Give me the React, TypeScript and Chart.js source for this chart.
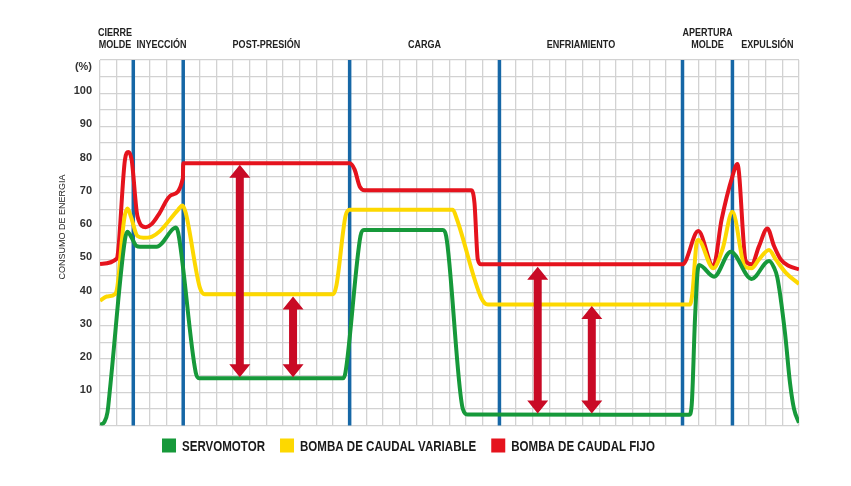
import React, { useEffect, useRef } from 'react';
import { Chart, registerables } from 'chart.js';

Chart.register(...registerables);

// ---- data (x in grid units 0..42, y in %) ----
const servoX = [0, 0.25, 0.45, 0.6, 1.5, 1.65, 1.85, 2.2, 2.4, 3.4, 4.4, 4.55, 4.7, 5.75, 5.95, 14.6, 14.75, 15.65, 15.85, 20.6, 20.8, 21.8, 22.1, 35.4, 35.55, 35.75, 35.9, 36.0, 36.9, 37.9, 39.15, 40.2, 40.5, 40.7, 41.16, 41.46, 41.7, 42];
const servoY = [0.2, 1, 4, 11, 56, 58.3, 57, 54, 53.8, 53.8, 59.2, 59.6, 58, 16, 14.2, 14.2, 16, 57, 58.8, 58.8, 57, 5, 3.3, 3.2, 6, 32, 46, 48.3, 44.8, 52.3, 44.1, 49.5, 47.5, 44.5, 27.8, 12.8, 5, 0.8];

const variableX = [0, 0.4, 0.9, 1.05, 1.45, 1.65, 1.85, 2.25, 2.6, 3.1, 3.6, 4.7, 4.95, 5.15, 6.0, 6.3, 14.0, 14.2, 14.75, 15.0, 21.2, 21.45, 22.9, 23.3, 35.45, 35.6, 35.85, 35.95, 36.85, 37.4, 38.0, 38.75, 39.15, 39.6, 40.2, 40.6, 41.2, 42];
const variableY = [37.6, 38.8, 39.5, 42, 62, 65.3, 63, 57, 56.5, 56.8, 58.5, 65, 66.2, 64, 41.5, 39.5, 39.5, 42, 63, 64.9, 64.9, 62, 38.5, 36.4, 36.4, 40, 55, 55.8, 47.3, 53, 64.3, 47.8, 47.3, 50, 52.8, 50, 46, 42.6];

const fixedX = [0, 1.0, 1.1, 1.5, 1.7, 1.9, 2.25, 2.75, 3.1, 3.5, 4.3, 4.98, 5.0, 15.0, 15.3, 15.6, 15.9, 22.3, 22.5, 22.7, 22.9, 35.0, 35.95, 36.85, 37.35, 38.0, 38.3, 38.8, 39.15, 39.6, 40.1, 40.5, 40.9, 41.4, 42];
const fixedY = [48.6, 50.2, 53, 80, 82.3, 80, 63, 59.7, 60.6, 63.3, 69.4, 74.4, 78.9, 78.9, 77, 72, 70.8, 70.8, 67, 50, 48.5, 48.5, 58.5, 47.8, 62, 75, 78.7, 49.5, 48.5, 54, 59.3, 54, 50, 48, 47];

const seriesNames = ['SERVOMOTOR', 'BOMBA DE CAUDAL VARIABLE', 'BOMBA DE CAUDAL FIJO'];
const seriesColors = ['#16993a', '#fdd800', '#e5131d'];

const phaseBoundaries = [2, 5, 15, 24, 35, 38];
const phaseLabels = [['CIERRE', 'MOLDE'], ['INYECCIÓN'], ['POST-PRESIÓN'], ['CARGA'], ['ENFRIAMIENTO'], ['APERTURA', 'MOLDE'], ['EXPULSIÓN']];
const phaseLabelX = [0.9, 3.7, 10, 19.5, 28.9, 36.5, 40.1];

const arrowX = [8.4, 11.6, 26.3, 29.55];
const arrowFrom = [14.5, 14.5, 3.6, 3.6];
const arrowTo = [78.5, 38.8, 47.8, 36.0];

const yMax = 110;
const yTickLabels = [10, 20, 30, 40, 50, 60, 70, 80, 90, 100];
const unitLabel = '(%)';
const yTitle = 'CONSUMO DE ENERGIA';

const SANS = "'Liberation Sans', Arial, sans-serif";
const BLUE = '#1667a6';
const ARROW = '#c90a25';
const SQUEEZE = 0.77;

const zip = (xs: number[], ys: number[]) => xs.map((x, i) => ({ x, y: ys[i] }));

function squeezedText(ctx: CanvasRenderingContext2D, text: string, x: number, y: number, k: number) {
  ctx.save();
  ctx.translate(x, y);
  ctx.scale(k, 1);
  ctx.fillText(text, 0, 0);
  ctx.restore();
}

const overlay = {
  id: 'overlay',
  beforeDatasetsDraw(chart: any) {
    const { ctx, chartArea, scales } = chart;
    const x = scales.x;
    ctx.save();
    ctx.strokeStyle = BLUE;
    ctx.lineWidth = 3.5;
    phaseBoundaries.forEach((v) => {
      const px = x.getPixelForValue(v);
      ctx.beginPath();
      ctx.moveTo(px, chartArea.top);
      ctx.lineTo(px, chartArea.bottom);
      ctx.stroke();
    });
    ctx.restore();
  },
  afterDatasetsDraw(chart: any) {
    const { ctx, scales } = chart;
    const x = scales.x;
    const y = scales.y;
    ctx.save();
    ctx.fillStyle = ARROW;
    const hw = 10.5, hl = 13, sw = 4;
    arrowX.forEach((v, i) => {
      const cx = x.getPixelForValue(v);
      const yT = y.getPixelForValue(arrowTo[i]);
      const yB = y.getPixelForValue(arrowFrom[i]);
      ctx.beginPath();
      ctx.moveTo(cx, yT);
      ctx.lineTo(cx + hw, yT + hl);
      ctx.lineTo(cx + sw, yT + hl);
      ctx.lineTo(cx + sw, yB - hl);
      ctx.lineTo(cx + hw, yB - hl);
      ctx.lineTo(cx, yB);
      ctx.lineTo(cx - hw, yB - hl);
      ctx.lineTo(cx - sw, yB - hl);
      ctx.lineTo(cx - sw, yT + hl);
      ctx.lineTo(cx - hw, yT + hl);
      ctx.closePath();
      ctx.fill();
    });
    ctx.restore();
  },
  afterDraw(chart: any) {
    const { ctx, chartArea, scales } = chart;
    const x = scales.x;
    ctx.save();
    // phase labels
    ctx.fillStyle = '#222';
    ctx.font = `bold 11px ${SANS}`;
    ctx.textAlign = 'center';
    ctx.textBaseline = 'middle';
    phaseLabels.forEach((lines, i) => {
      const px = x.getPixelForValue(phaseLabelX[i]);
      lines.forEach((t, j) => {
        const py = chartArea.top - 15 - (lines.length - 1 - j) * 12;
        squeezedText(ctx, t, px, py, 0.82);
      });
    });
    // unit label
    ctx.font = `bold 11px ${SANS}`;
    ctx.fillStyle = '#333';
    ctx.textAlign = 'right';
    ctx.fillText(unitLabel, chartArea.left - 8, chartArea.top + 7);
    // y title
    ctx.save();
    ctx.translate(63, 227);
    ctx.rotate(-Math.PI / 2);
    ctx.textAlign = 'center';
    ctx.fillStyle = '#222';
    ctx.font = `9px ${SANS}`;
    ctx.fillText(yTitle, 0, 0);
    ctx.restore();
    // legend
    ctx.font = `bold 15px ${SANS}`;
    ctx.textAlign = 'left';
    ctx.textBaseline = 'middle';
    const box = 14, gap = 6, spacing = 15;
    const widths = seriesNames.map((n) => ctx.measureText(n).width * SQUEEZE);
    const total = widths.reduce((a, w) => a + box + gap + w, 0) + spacing * (seriesNames.length - 1);
    let lx = chart.width / 2 - 20 - total / 2 + 3;
    const ly = chartArea.bottom + 20;
    seriesNames.forEach((n, i) => {
      ctx.fillStyle = seriesColors[i];
      ctx.fillRect(lx, ly - box / 2, box, box);
      ctx.fillStyle = '#1a1a1a';
      squeezedText(ctx, n, lx + box + gap, ly + 1, SQUEEZE);
      lx += box + gap + widths[i] + spacing;
    });
    ctx.restore();
  },
};

export default function App() {
  const ref = useRef<HTMLCanvasElement>(null);
  useEffect(() => {
    if (!ref.current) return;
    const series = [zip(servoX, servoY), zip(variableX, variableY), zip(fixedX, fixedY)];
    const chart = new Chart(ref.current, {
      type: 'line',
      data: {
        datasets: series.map((d, i) => ({
          label: seriesNames[i],
          data: d,
          borderColor: seriesColors[i],
          backgroundColor: seriesColors[i],
          borderWidth: 4,
          pointRadius: 0,
          cubicInterpolationMode: 'monotone' as const,
          fill: false,
          order: i,
        })),
      },
      options: {
        animation: false,
        responsive: true,
        maintainAspectRatio: false,
        layout: { padding: { top: 60, right: 52, left: 0, bottom: 60.5 } },
        plugins: {
          tooltip: { enabled: false },
          legend: { display: false },
        },
        scales: {
          x: {
            type: 'linear',
            min: 0,
            max: 42,
            ticks: { display: false, stepSize: 1 },
            grid: { color: '#d2d2d2', lineWidth: 1.3, drawTicks: false },
            border: { display: false },
            afterFit: (s: any) => { s.height = 0; },
          },
          y: {
            min: 0,
            max: yMax,
            ticks: {
              stepSize: 5,
              padding: 8,
              labelOffset: -2,
              color: '#333',
              font: { family: SANS, size: 11, weight: 'bold' },
              callback: (v: any) => (yTickLabels.includes(Number(v)) ? String(v) : ''),
            },
            grid: { color: '#d2d2d2', lineWidth: 1.3, drawTicks: false },
            border: { display: false },
            afterFit: (s: any) => { s.width = 100; },
          },
        },
      },
      plugins: [overlay],
    } as any);
    return () => chart.destroy();
  }, []);
  return (
    <div style={{ position: 'absolute', left: 0, top: 0, width: 851, height: 486, background: '#fff' }}>
      <canvas ref={ref} />
    </div>
  );
}
